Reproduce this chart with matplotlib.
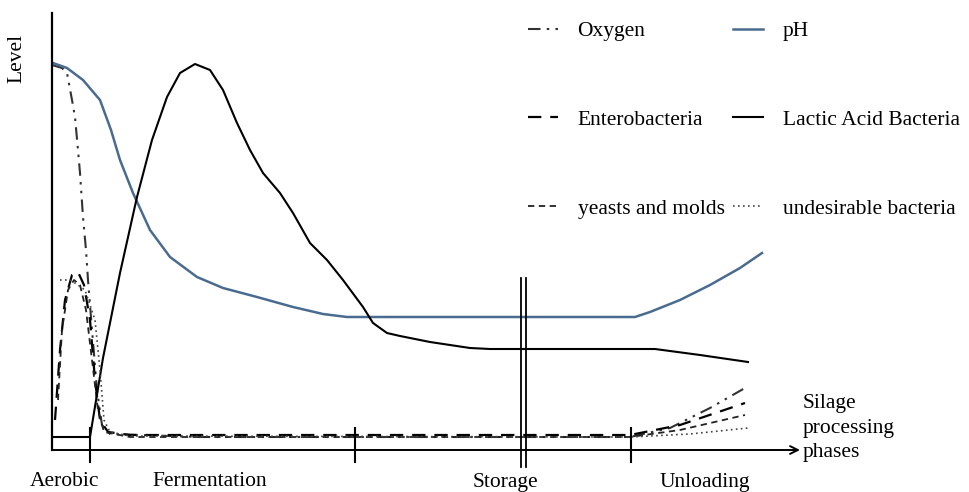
import matplotlib.pyplot as plt

# Zeitachse (willkuerliche Einheiten) und relative Niveaus
ph_x = [0, 1, 15, 31, 48, 59, 68, 81, 98, 118, 145, 171, 205, 241, 271, 295, 348, 583, 598, 628, 658, 688, 710]
ph_y = [385, 387, 382, 370, 350, 320, 290, 257, 220, 193, 173, 162, 153, 143, 136, 133, 133, 133, 138, 150, 165, 182, 197]

lab_x = [0, 38, 51, 68, 85, 100, 115, 128, 143, 158, 171, 185, 198, 211, 228, 241, 258, 275, 291,
         311, 321, 335, 348, 378, 418, 438, 603, 648, 696]
lab_y = [13, 13, 92, 177, 253, 310, 353, 377, 386, 380, 360, 327, 300, 277, 257, 237, 207, 190, 170,
         143, 127, 117, 114, 108, 102, 101, 101, 95, 88]

oxy_x = [0, 10, 15, 20, 23, 26, 28, 31, 34, 36, 40, 45, 50, 58, 148, 578, 618, 658, 693]
oxy_y = [385, 382, 377, 350, 333, 300, 277, 233, 200, 170, 120, 60, 25, 16, 13, 13, 22, 42, 62]

ent_x = [3, 8, 13, 20, 26, 32, 38, 43, 48, 56, 78, 578, 628, 693]
ent_y = [30, 100, 150, 175, 178, 165, 130, 70, 30, 18, 15, 15, 25, 47]

yst_x = [6, 10, 16, 22, 28, 34, 40, 46, 52, 78, 578, 628, 693]
yst_y = [50, 120, 160, 170, 165, 140, 90, 40, 18, 13, 13, 20, 35]

und_x = [8, 18, 26, 33, 43, 48, 52, 58, 78, 578, 638, 696]
und_y = [170, 170, 165, 160, 130, 80, 30, 18, 14, 13, 16, 22]

phase_bounds = [38, 303, 579]
storage_x = 472
phase_names = ["Aerobic", "Fermentation", "Storage", "Unloading"]
phase_label_x = [13, 158, 453, 653]

plt.rcParams['font.family'] = ['Liberation Serif', 'DejaVu Serif']
FS = 15.5

fig = plt.figure(figsize=(9.7, 4.92), dpi=100)
ax = fig.add_axes([52 / 970, 42 / 492, 748 / 970, 437 / 492])
ax.set_xlim(0, 748)
ax.set_ylim(0, 437)
ax.set_xticks([])
ax.set_yticks([])
for s in ['top', 'right', 'bottom']:
    ax.spines[s].set_visible(False)
ax.spines['left'].set_linewidth(1.6)

# x-Achse mit Pfeil
ax.annotate("", xy=(1.0, 0), xytext=(0, 0), xycoords='axes fraction',
            arrowprops=dict(arrowstyle='->', lw=1.4, color='black',
                            shrinkA=0, shrinkB=0, mutation_scale=14))

ax.plot(oxy_x, oxy_y, color='#333333', lw=1.5, dashes=(6, 3, 1.2, 3, 1.2, 3), label='Oxygen')
ax.plot(ent_x, ent_y, color='black', lw=1.6, dashes=(6, 4), label='Enterobacteria')
ax.plot(yst_x, yst_y, color='#222222', lw=1.3, dashes=(3.5, 2.5), label='yeasts and molds')
ax.plot(ph_x, ph_y, color='#4a6b90', lw=1.8, label='pH')
ax.plot(lab_x, lab_y, color='black', lw=1.5, label='Lactic Acid Bacteria')
ax.plot(und_x, und_y, color='#444444', lw=1.2, dashes=(1, 2), label='undesirable bacteria')

# Phasengrenzen
for b in phase_bounds:
    ax.plot([b, b], [-12, 22], color='black', lw=1.5, clip_on=False)
for dx in (-2.5, 2.5):
    ax.plot([storage_x + dx, storage_x + dx], [-17, 172], color='black', lw=1.3, clip_on=False)

for name, px in zip(phase_names, phase_label_x):
    ax.text(px, -32, name, ha='center', va='center', fontsize=FS, clip_on=False)

ax.text(751, 22, "Silage\nprocessing\nphases", ha='left', va='center', fontsize=FS,
        linespacing=1.4, clip_on=False)
fig.text(17 / 970, 1 - 58 / 492, "Level", rotation=90, ha='center', va='center', fontsize=FS)

leg = fig.legend(loc='upper left', bbox_to_anchor=(528 / 970, 1 - 21 / 492), ncol=2,
                 frameon=False, fontsize=FS, handlelength=1.4, handletextpad=0.9,
                 labelspacing=3.2, columnspacing=0.4, borderpad=0, borderaxespad=0)

fig.savefig("out.png", dpi=100)
